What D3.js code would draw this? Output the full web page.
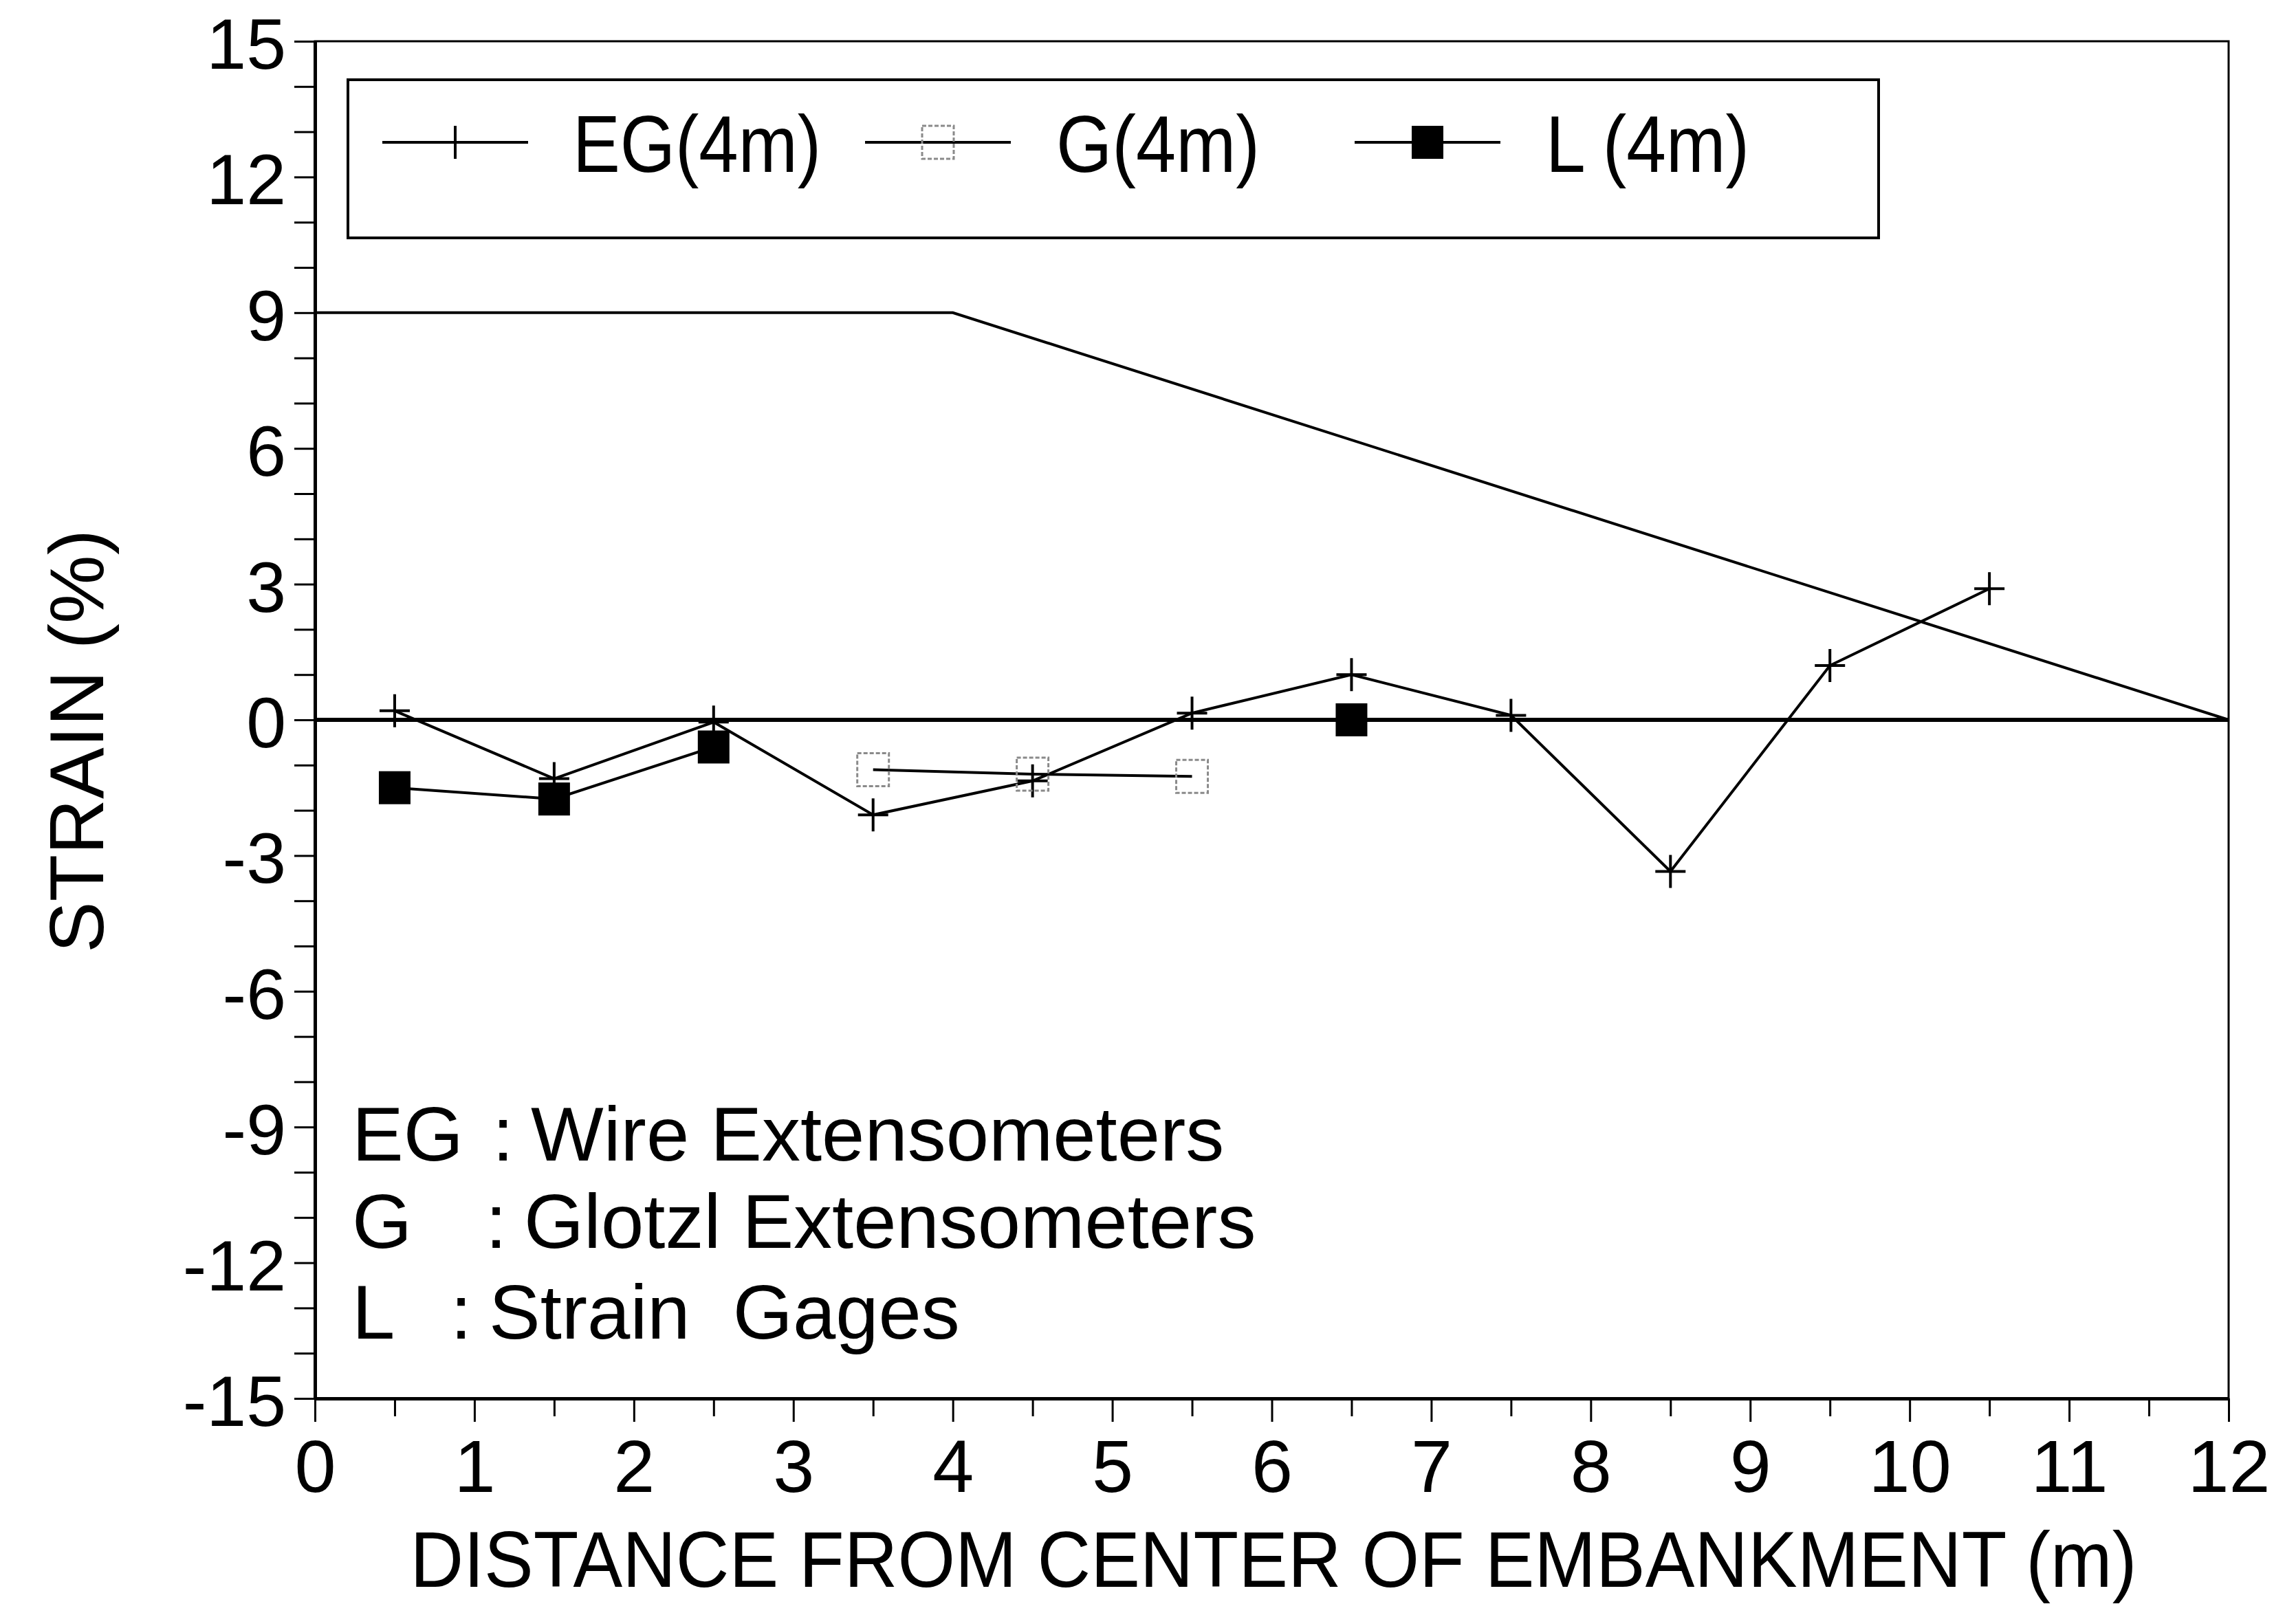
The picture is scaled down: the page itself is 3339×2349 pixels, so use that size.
<!DOCTYPE html>
<html lang="en">
<head>
<meta charset="utf-8">
<title>Strain vs distance from center of embankment</title>
<script src="https://cdn.jsdelivr.net/npm/d3@7"></script>
<style>
  body { margin: 0; background: #fff; }
  svg text { font-family: "Liberation Sans", Arial, Helvetica, sans-serif; fill: #000; }
</style>
</head>
<body>
<div id="chart"></div>
<script>
var w = 3339;
var h = 2349;

// EG : wire extensometers
var xEG = [0.5, 1.5, 2.5, 3.5, 4.5, 5.5, 6.5, 7.5, 8.5, 9.5, 10.5];
var strainEG = [0.2, -1.3, -0.05, -2.1, -1.35, 0.15, 1.0, 0.1, -3.35, 1.2, 2.9];
// G : glotzl extensometers
var xG = [3.5, 4.5, 5.5];
var strainG = [-1.1, -1.2, -1.25];
// L : strain gages (line broken between 2.5 and 6.5)
var xL = [0.5, 1.5, 2.5, 6.5];
var strainL = [-1.5, -1.75, -0.6, 0];
var segL = [0, 0, 0, 1];
// embankment outline
var xEmb = [0, 4, 12];
var yEmb = [9, 9, 0];

var yTickLabels = [-15, -12, -9, -6, -3, 0, 3, 6, 9, 12, 15];
var xTickLabels = [0, 1, 2, 3, 4, 5, 6, 7, 8, 9, 10, 11, 12];
var legendNames = ["EG(4m)", "G(4m)", "L (4m)"];
var noteKeys = ["EG", "G", "L"];
var noteTexts = ["Wire Extensometers", "Glotzl Extensometers", "Strain  Gages"];

var svg = d3.select("#chart").append("svg")
  .attr("width", w)
  .attr("height", h);

svg.append("rect").attr("width", w).attr("height", h).attr("fill", "#fff");

var x = d3.scaleLinear().domain([0, 12]).range([458, 3241]);
var y = d3.scaleLinear().domain([-15, 15]).range([2034, 60]);

// frame
svg.append("rect")
  .attr("x", x(0)).attr("y", y(15))
  .attr("width", x(12) - x(0)).attr("height", y(-15) - y(15))
  .attr("fill", "none").attr("stroke", "#000").attr("stroke-width", 3);

// y axis
var yAxis = svg.append("g")
  .attr("transform", "translate(" + x(0) + ",0)")
  .call(d3.axisLeft(y)
    .tickValues(d3.range(-15, 16, 1))
    .tickSize(30).tickSizeOuter(0).tickPadding(12)
    .tickFormat(function(d) { return yTickLabels.indexOf(d) >= 0 ? String(d) : ""; }));
yAxis.select(".domain").attr("stroke-width", 5);
yAxis.selectAll(".tick line").attr("stroke-width", 3);
yAxis.selectAll("text").attr("font-size", 104).attr("dy", "0.38em").attr("fill", "#000");

// x axis
var xAxis = svg.append("g")
  .attr("transform", "translate(0," + y(-15) + ")")
  .call(d3.axisBottom(x)
    .tickValues(d3.range(0, 12.01, 0.5))
    .tickSize(34).tickSizeOuter(0)
    .tickFormat(function(d) { return xTickLabels.indexOf(d) >= 0 ? String(d) : ""; }));
xAxis.select(".domain").attr("stroke-width", 5);
xAxis.selectAll(".tick line")
  .attr("stroke-width", 3)
  .attr("y2", function(d) { return d % 1 === 0 ? 34 : 26; });
xAxis.selectAll("text")
  .attr("font-size", 108).attr("y", 136).attr("dy", 0).attr("fill", "#000");

// axis titles
svg.append("text")
  .attr("x", 1852).attr("y", 2308)
  .attr("text-anchor", "middle")
  .attr("font-size", 115)
  .attr("textLength", 2511).attr("lengthAdjust", "spacingAndGlyphs")
  .text("DISTANCE FROM CENTER OF EMBANKMENT (m)");

svg.append("text")
  .attr("transform", "translate(150,1078) rotate(-90)")
  .attr("text-anchor", "middle")
  .attr("font-size", 112)
  .text("STRAIN (%)");

// zero line and embankment outline
svg.append("line")
  .attr("x1", x(0)).attr("x2", x(12))
  .attr("y1", y(0)).attr("y2", y(0))
  .attr("stroke", "#000").attr("stroke-width", 6);

var line = d3.line()
  .x(function(d) { return x(d[0]); })
  .y(function(d) { return y(d[1]); });

svg.append("path")
  .attr("d", line(d3.zip(xEmb, yEmb)))
  .attr("fill", "none").attr("stroke", "#000").attr("stroke-width", 4);

// series lines
var egPts = d3.zip(xEG, strainEG);
var gPts = d3.zip(xG, strainG);
var lPts = d3.zip(xL, strainL, segL);

svg.append("path")
  .attr("d", line(egPts))
  .attr("fill", "none").attr("stroke", "#000").attr("stroke-width", 4);

svg.append("path")
  .attr("d", line(gPts))
  .attr("fill", "none").attr("stroke", "#000").attr("stroke-width", 4);

d3.groups(lPts, function(d) { return d[2]; }).forEach(function(g) {
  svg.append("path")
    .attr("d", line(g[1]))
    .attr("fill", "none").attr("stroke", "#000").attr("stroke-width", 4);
});

// markers
var plusPath = "M-22,0H22M0,-24V24";

function drawPlus(sel) {
  sel.append("path").attr("d", plusPath)
    .attr("stroke", "#000").attr("stroke-width", 4).attr("fill", "none");
}
function drawOpen(sel) {
  sel.append("rect").attr("x", -23).attr("y", -24).attr("width", 46).attr("height", 48)
    .attr("fill", "none").attr("stroke", "#8a8a8a").attr("stroke-width", 3)
    .attr("stroke-dasharray", "6,3");
}
function drawFilled(sel) {
  sel.append("rect").attr("x", -23).attr("y", -24).attr("width", 46).attr("height", 48)
    .attr("fill", "#000");
}

svg.selectAll(".mEG").data(egPts).enter().append("g")
  .attr("class", "mEG")
  .attr("transform", function(d) { return "translate(" + x(d[0]) + "," + y(d[1]) + ")"; })
  .call(drawPlus);

svg.selectAll(".mG").data(gPts).enter().append("g")
  .attr("class", "mG")
  .attr("transform", function(d) { return "translate(" + x(d[0]) + "," + y(d[1]) + ")"; })
  .call(drawOpen);

svg.selectAll(".mL").data(lPts).enter().append("g")
  .attr("class", "mL")
  .attr("transform", function(d) { return "translate(" + x(d[0]) + "," + y(d[1]) + ")"; })
  .call(drawFilled);

// legend
var legend = svg.append("g");
legend.append("rect")
  .attr("x", 506).attr("y", 116).attr("width", 2226).attr("height", 230)
  .attr("fill", "#fff").attr("stroke", "#000").attr("stroke-width", 4);

var legX = [556, 1258, 1970];
var legTextX = [833, 1536, 2248];
var legTextW = [361, 296, 296];
var legMark = [drawPlus, drawOpen, drawFilled];

legendNames.forEach(function(name, i) {
  legend.append("line")
    .attr("x1", legX[i]).attr("x2", legX[i] + 212)
    .attr("y1", 207).attr("y2", 207)
    .attr("stroke", "#000").attr("stroke-width", 4);
  legend.append("g")
    .attr("transform", "translate(" + (legX[i] + 106) + ",207)")
    .call(legMark[i]);
  legend.append("text")
    .attr("x", legTextX[i]).attr("y", 250)
    .attr("font-size", 116)
    .attr("textLength", legTextW[i]).attr("lengthAdjust", "spacingAndGlyphs")
    .text(name);
});

// notes
var noteY = [1688, 1815, 1947];
var colonX = [716, 706, 655];
var descX = [772, 762, 711];
noteKeys.forEach(function(k, i) {
  svg.append("text").attr("x", 512).attr("y", noteY[i]).attr("font-size", 112).text(k);
  svg.append("text").attr("x", colonX[i]).attr("y", noteY[i]).attr("font-size", 112).text(":");
  svg.append("text").attr("x", descX[i]).attr("y", noteY[i]).attr("font-size", 112)
    .attr("xml:space", "preserve").text(noteTexts[i]);
});
</script>
</body>
</html>
